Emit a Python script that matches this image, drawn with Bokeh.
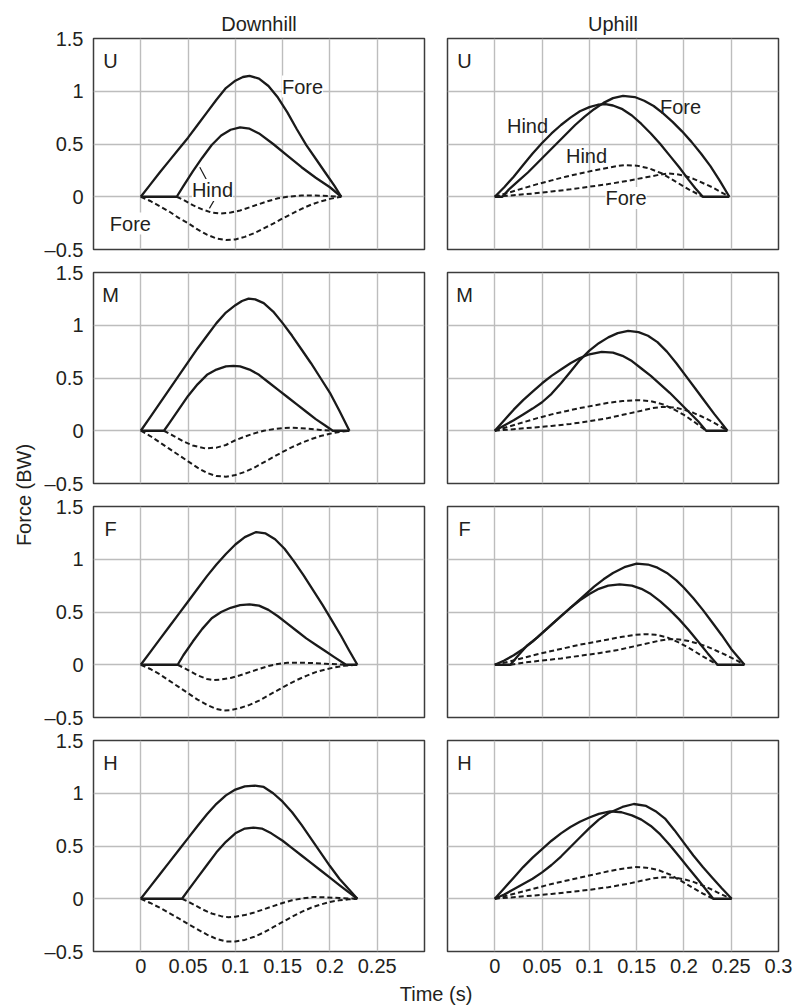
import math
from bokeh.plotting import figure
from bokeh.layouts import row, column
from bokeh.models import FixedTicker, Label, CustomJSTickFormatter, Range1d, Title
from bokeh.embed import file_html
from bokeh.resources import INLINE

# ---------------- data (time in s, force in BW) ----------------
column_titles = ["Downhill", "Uphill"]
speed_letters = ["U", "M", "F", "H"]
y_ticks = [-0.5, 0, 0.5, 1, 1.5]
x_ticks_down = [0, 0.05, 0.1, 0.15, 0.2, 0.25]
x_ticks_up = [0, 0.05, 0.1, 0.15, 0.2, 0.25, 0.3]
grid_x = [0, 0.05, 0.1, 0.15, 0.2, 0.25]
grid_y = [0, 0.5, 1]

# Downhill U
du_fore_v_t = [0, 0.01, 0.02, 0.03, 0.04, 0.05, 0.06, 0.07, 0.08, 0.09, 0.1, 0.108, 0.115, 0.125, 0.135, 0.145, 0.155, 0.165, 0.175, 0.185, 0.195, 0.205, 0.212]
du_fore_v_f = [0, 0.115, 0.23, 0.34, 0.45, 0.56, 0.68, 0.8, 0.92, 1.03, 1.1, 1.135, 1.146, 1.12, 1.05, 0.94, 0.8, 0.64, 0.49, 0.36, 0.23, 0.1, 0]
du_hind_v_t = [0, 0.038, 0.045, 0.055, 0.065, 0.075, 0.085, 0.095, 0.105, 0.115, 0.125, 0.14, 0.155, 0.17, 0.185, 0.2, 0.212]
du_hind_v_f = [0, 0, 0.1, 0.24, 0.37, 0.49, 0.58, 0.635, 0.658, 0.645, 0.6, 0.5, 0.39, 0.28, 0.18, 0.09, 0]
du_hind_h_t = [0.038, 0.045, 0.055, 0.065, 0.075, 0.085, 0.095, 0.105, 0.115, 0.125, 0.135, 0.145, 0.155, 0.17, 0.185, 0.2, 0.212]
du_hind_h_f = [0, -0.03, -0.08, -0.12, -0.15, -0.158, -0.15, -0.13, -0.1, -0.07, -0.04, -0.015, 0.0, 0.012, 0.012, 0.006, 0]
du_fore_h_t = [0, 0.01, 0.02, 0.03, 0.04, 0.05, 0.06, 0.07, 0.08, 0.09, 0.1, 0.11, 0.12, 0.13, 0.14, 0.15, 0.16, 0.17, 0.18, 0.19, 0.2, 0.212]
du_fore_h_f = [0, -0.04, -0.09, -0.14, -0.2, -0.25, -0.31, -0.36, -0.395, -0.41, -0.405, -0.38, -0.345, -0.3, -0.255, -0.205, -0.16, -0.115, -0.075, -0.045, -0.02, 0]

# Downhill M
dm_fore_v_t = [0, 0.01, 0.02, 0.03, 0.04, 0.05, 0.06, 0.07, 0.08, 0.09, 0.1, 0.107, 0.114, 0.121, 0.13, 0.14, 0.15, 0.16, 0.17, 0.18, 0.19, 0.2, 0.21, 0.2206]
dm_fore_v_f = [0, 0.13, 0.26, 0.39, 0.52, 0.65, 0.78, 0.9, 1.02, 1.12, 1.19, 1.23, 1.252, 1.245, 1.21, 1.13, 1.02, 0.9, 0.77, 0.64, 0.5, 0.36, 0.19, 0]
dm_hind_v_t = [0, 0.0245, 0.03, 0.04, 0.05, 0.06, 0.07, 0.08, 0.09, 0.098, 0.105, 0.115, 0.125, 0.135, 0.145, 0.155, 0.165, 0.175, 0.185, 0.195, 0.203, 0.2206]
dm_hind_v_f = [0, 0, 0.07, 0.2, 0.33, 0.44, 0.53, 0.58, 0.61, 0.615, 0.61, 0.58, 0.53, 0.46, 0.39, 0.32, 0.25, 0.18, 0.11, 0.05, 0, 0]
dm_hind_h_t = [0.0245, 0.035, 0.045, 0.055, 0.068, 0.08, 0.09, 0.1, 0.11, 0.12, 0.13, 0.14, 0.15, 0.16, 0.17, 0.18, 0.19, 0.203]
dm_hind_h_f = [0, -0.05, -0.1, -0.14, -0.167, -0.16, -0.135, -0.09, -0.055, -0.025, 0.0, 0.015, 0.025, 0.028, 0.024, 0.016, 0.008, 0]
dm_fore_h_t = [0, 0.01, 0.02, 0.03, 0.04, 0.05, 0.06, 0.07, 0.08, 0.09, 0.1, 0.11, 0.12, 0.13, 0.14, 0.15, 0.16, 0.17, 0.18, 0.19, 0.2, 0.21, 0.2206]
dm_fore_h_f = [0, -0.05, -0.11, -0.17, -0.23, -0.29, -0.35, -0.4, -0.43, -0.435, -0.42, -0.39, -0.35, -0.3, -0.25, -0.2, -0.155, -0.115, -0.08, -0.05, -0.028, -0.012, 0]

# Downhill F
df_fore_v_t = [0, 0.01, 0.02, 0.03, 0.04, 0.05, 0.06, 0.07, 0.08, 0.09, 0.1, 0.11, 0.122, 0.132, 0.142, 0.152, 0.162, 0.172, 0.182, 0.192, 0.202, 0.212, 0.22, 0.229]
df_fore_v_f = [0, 0.12, 0.24, 0.36, 0.48, 0.6, 0.72, 0.84, 0.95, 1.05, 1.14, 1.21, 1.258, 1.245, 1.19, 1.1, 0.98, 0.85, 0.71, 0.57, 0.42, 0.27, 0.14, 0]
df_hind_v_t = [0, 0.039, 0.045, 0.055, 0.065, 0.075, 0.085, 0.095, 0.105, 0.115, 0.125, 0.135, 0.145, 0.155, 0.165, 0.175, 0.185, 0.195, 0.205, 0.217, 0.229]
df_hind_v_f = [0, 0, 0.09, 0.22, 0.34, 0.44, 0.5, 0.54, 0.565, 0.572, 0.56, 0.52, 0.46, 0.39, 0.32, 0.25, 0.19, 0.13, 0.07, 0, 0]
df_hind_h_t = [0.039, 0.05, 0.06, 0.07, 0.077, 0.085, 0.095, 0.105, 0.115, 0.125, 0.135, 0.145, 0.155, 0.165, 0.18, 0.195, 0.21, 0.217]
df_hind_h_f = [0, -0.05, -0.1, -0.135, -0.145, -0.14, -0.125, -0.1, -0.07, -0.04, -0.012, 0.008, 0.018, 0.02, 0.017, 0.01, 0.003, 0]
df_fore_h_t = [0, 0.01, 0.02, 0.03, 0.04, 0.05, 0.06, 0.07, 0.08, 0.0875, 0.095, 0.105, 0.115, 0.125, 0.135, 0.145, 0.155, 0.165, 0.175, 0.185, 0.195, 0.205, 0.215, 0.229]
df_fore_h_f = [0, -0.04, -0.09, -0.15, -0.21, -0.27, -0.33, -0.38, -0.42, -0.434, -0.43, -0.41, -0.38, -0.34, -0.29, -0.24, -0.19, -0.145, -0.105, -0.07, -0.045, -0.025, -0.01, 0]

# Downhill H
dh_fore_v_t = [0, 0.01, 0.02, 0.03, 0.04, 0.05, 0.06, 0.07, 0.08, 0.09, 0.1, 0.11, 0.1207, 0.13, 0.14, 0.15, 0.16, 0.17, 0.18, 0.19, 0.2, 0.21, 0.22, 0.229]
dh_fore_v_f = [0, 0.115, 0.23, 0.345, 0.46, 0.575, 0.69, 0.8, 0.9, 0.98, 1.035, 1.065, 1.073, 1.06, 1.0, 0.92, 0.82, 0.7, 0.57, 0.44, 0.31, 0.19, 0.09, 0]
dh_hind_v_t = [0, 0.0436, 0.05, 0.06, 0.07, 0.08, 0.09, 0.1, 0.11, 0.119, 0.128, 0.138, 0.15, 0.16, 0.17, 0.18, 0.19, 0.2, 0.21, 0.22, 0.229]
dh_hind_v_f = [0, 0, 0.08, 0.2, 0.32, 0.44, 0.54, 0.62, 0.665, 0.675, 0.665, 0.62, 0.55, 0.48, 0.41, 0.34, 0.27, 0.2, 0.13, 0.06, 0]
dh_hind_h_t = [0.0436, 0.055, 0.065, 0.075, 0.085, 0.0926, 0.1, 0.11, 0.12, 0.13, 0.14, 0.15, 0.16, 0.17, 0.183, 0.195, 0.21, 0.229]
dh_hind_h_f = [0, -0.05, -0.1, -0.14, -0.165, -0.175, -0.17, -0.155, -0.13, -0.1, -0.07, -0.04, -0.015, 0.003, 0.016, 0.014, 0.007, 0]
dh_fore_h_t = [0, 0.01, 0.02, 0.03, 0.04, 0.05, 0.06, 0.07, 0.08, 0.09, 0.1, 0.11, 0.12, 0.13, 0.14, 0.15, 0.16, 0.17, 0.18, 0.19, 0.2, 0.21, 0.22, 0.229]
dh_fore_h_f = [0, -0.04, -0.085, -0.135, -0.185, -0.24, -0.29, -0.34, -0.38, -0.405, -0.405, -0.39, -0.36, -0.32, -0.27, -0.22, -0.17, -0.125, -0.085, -0.055, -0.03, -0.015, -0.005, 0]

# Uphill U
uu_hind_v_t = [0, 0.01, 0.02, 0.03, 0.04, 0.05, 0.06, 0.07, 0.08, 0.09, 0.1, 0.109, 0.117, 0.125, 0.135, 0.145, 0.155, 0.165, 0.175, 0.185, 0.195, 0.205, 0.212, 0.22, 0.248]
uu_hind_v_f = [0, 0.09, 0.19, 0.3, 0.41, 0.51, 0.6, 0.68, 0.75, 0.81, 0.85, 0.872, 0.877, 0.865, 0.83, 0.77, 0.69, 0.6, 0.5, 0.39, 0.28, 0.16, 0.08, 0, 0]
uu_fore_v_t = [0, 0.008, 0.015, 0.025, 0.035, 0.045, 0.055, 0.065, 0.075, 0.085, 0.095, 0.105, 0.115, 0.125, 0.1356, 0.148, 0.158, 0.168, 0.178, 0.188, 0.198, 0.208, 0.218, 0.228, 0.238, 0.248]
uu_fore_v_f = [0, 0, 0.07, 0.15, 0.23, 0.32, 0.41, 0.5, 0.59, 0.68, 0.76, 0.83, 0.89, 0.935, 0.956, 0.945, 0.91, 0.86, 0.79, 0.71, 0.62, 0.52, 0.41, 0.29, 0.15, 0]
uu_hind_h_t = [0, 0.015, 0.03, 0.045, 0.06, 0.075, 0.09, 0.105, 0.12, 0.13, 0.138, 0.15, 0.163, 0.177, 0.19, 0.205, 0.22]
uu_hind_h_f = [0, 0.04, 0.08, 0.12, 0.155, 0.19, 0.22, 0.25, 0.275, 0.292, 0.3, 0.295, 0.27, 0.22, 0.15, 0.07, 0]
uu_fore_h_t = [0, 0.02, 0.04, 0.06, 0.08, 0.1, 0.12, 0.14, 0.16, 0.172, 0.183, 0.192, 0.2, 0.21, 0.22, 0.23, 0.24, 0.248]
uu_fore_h_f = [0, 0.015, 0.03, 0.05, 0.07, 0.095, 0.12, 0.15, 0.185, 0.205, 0.22, 0.215, 0.2, 0.17, 0.13, 0.09, 0.04, 0]

# Uphill M
um_hind_v_t = [0, 0.01, 0.02, 0.03, 0.04, 0.05, 0.06, 0.07, 0.08, 0.09, 0.1, 0.113, 0.125, 0.135, 0.145, 0.155, 0.165, 0.175, 0.185, 0.195, 0.205, 0.215, 0.2235, 0.246]
um_hind_v_f = [0, 0.1, 0.2, 0.29, 0.37, 0.45, 0.52, 0.58, 0.64, 0.69, 0.725, 0.748, 0.74, 0.71, 0.66, 0.59, 0.52, 0.44, 0.36, 0.27, 0.18, 0.09, 0, 0]
um_fore_v_t = [0, 0.01, 0.02, 0.03, 0.04, 0.05, 0.06, 0.07, 0.08, 0.09, 0.1, 0.11, 0.12, 0.13, 0.141, 0.152, 0.162, 0.172, 0.182, 0.192, 0.202, 0.212, 0.222, 0.232, 0.24, 0.246]
um_fore_v_f = [0, 0.05, 0.1, 0.155, 0.21, 0.27, 0.35, 0.45, 0.56, 0.67, 0.76, 0.83, 0.885, 0.925, 0.946, 0.935, 0.9, 0.84, 0.75, 0.64, 0.52, 0.4, 0.28, 0.16, 0.07, 0]
um_hind_h_t = [0, 0.015, 0.03, 0.045, 0.06, 0.075, 0.09, 0.105, 0.12, 0.135, 0.152, 0.165, 0.178, 0.19, 0.2, 0.21, 0.2235]
um_hind_h_f = [0, 0.04, 0.08, 0.12, 0.155, 0.185, 0.215, 0.24, 0.265, 0.282, 0.29, 0.28, 0.25, 0.2, 0.15, 0.09, 0]
um_fore_h_t = [0, 0.02, 0.04, 0.06, 0.08, 0.1, 0.12, 0.14, 0.155, 0.167, 0.178, 0.19, 0.2, 0.21, 0.22, 0.23, 0.24, 0.246]
um_fore_h_f = [0, 0.015, 0.03, 0.045, 0.065, 0.09, 0.12, 0.16, 0.19, 0.215, 0.227, 0.22, 0.2, 0.17, 0.13, 0.085, 0.035, 0]

# Uphill F
uf_hind_v_t = [0, 0.01, 0.02, 0.03, 0.04, 0.05, 0.06, 0.07, 0.08, 0.09, 0.1, 0.11, 0.12, 0.132, 0.145, 0.155, 0.165, 0.175, 0.185, 0.195, 0.205, 0.215, 0.225, 0.2355, 0.264]
uf_hind_v_f = [0, 0.04, 0.09, 0.15, 0.22, 0.3, 0.38, 0.46, 0.54, 0.61, 0.67, 0.72, 0.75, 0.761, 0.75, 0.72, 0.67, 0.6, 0.52, 0.43, 0.33, 0.22, 0.11, 0, 0]
uf_fore_v_t = [0, 0.0165, 0.025, 0.034, 0.045, 0.055, 0.065, 0.075, 0.085, 0.095, 0.105, 0.115, 0.125, 0.137, 0.15, 0.162, 0.172, 0.182, 0.192, 0.2, 0.21, 0.22, 0.23, 0.24, 0.25, 0.264]
uf_fore_v_f = [0, 0, 0.09, 0.18, 0.26, 0.34, 0.42, 0.5, 0.58, 0.66, 0.74, 0.81, 0.87, 0.925, 0.959, 0.95, 0.92, 0.87, 0.8, 0.73, 0.63, 0.52, 0.4, 0.28, 0.15, 0]
uf_hind_h_t = [0, 0.015, 0.03, 0.045, 0.06, 0.075, 0.09, 0.105, 0.12, 0.135, 0.148, 0.1586, 0.17, 0.182, 0.195, 0.207, 0.22, 0.2355]
uf_hind_h_f = [0, 0.03, 0.065, 0.1, 0.13, 0.16, 0.19, 0.215, 0.24, 0.265, 0.283, 0.29, 0.285, 0.26, 0.21, 0.15, 0.08, 0]
uf_fore_h_t = [0.0165, 0.03, 0.05, 0.07, 0.09, 0.11, 0.13, 0.15, 0.165, 0.175, 0.185, 0.195, 0.205, 0.215, 0.225, 0.235, 0.245, 0.255, 0.264]
uf_fore_h_f = [0, 0.02, 0.04, 0.06, 0.085, 0.11, 0.14, 0.18, 0.21, 0.23, 0.242, 0.24, 0.225, 0.2, 0.17, 0.13, 0.09, 0.045, 0]

# Uphill H
uh_hind_v_t = [0, 0.01, 0.02, 0.03, 0.04, 0.05, 0.06, 0.07, 0.08, 0.09, 0.1, 0.11, 0.122, 0.134, 0.145, 0.155, 0.165, 0.175, 0.185, 0.195, 0.205, 0.215, 0.223, 0.231, 0.2505]
uh_hind_v_f = [0, 0.1, 0.2, 0.3, 0.39, 0.47, 0.55, 0.62, 0.68, 0.73, 0.77, 0.805, 0.828, 0.82, 0.79, 0.75, 0.69, 0.61, 0.51, 0.4, 0.29, 0.18, 0.09, 0, 0]
uh_fore_v_t = [0, 0.01, 0.02, 0.03, 0.04, 0.05, 0.06, 0.07, 0.08, 0.09, 0.1, 0.11, 0.12, 0.135, 0.147, 0.16, 0.17, 0.18, 0.19, 0.2, 0.21, 0.22, 0.23, 0.24, 0.2505]
uh_fore_v_f = [0, 0.04, 0.09, 0.14, 0.19, 0.25, 0.32, 0.4, 0.49, 0.58, 0.67, 0.75, 0.81, 0.87, 0.898, 0.88, 0.83, 0.76, 0.65, 0.53, 0.41, 0.3, 0.2, 0.1, 0]
uh_hind_h_t = [0, 0.015, 0.03, 0.045, 0.06, 0.075, 0.09, 0.105, 0.12, 0.135, 0.148, 0.16, 0.172, 0.185, 0.197, 0.21, 0.221, 0.231]
uh_hind_h_f = [0, 0.035, 0.07, 0.105, 0.14, 0.17, 0.2, 0.23, 0.26, 0.285, 0.3, 0.295, 0.275, 0.23, 0.17, 0.1, 0.045, 0]
uh_fore_h_t = [0, 0.02, 0.04, 0.06, 0.08, 0.1, 0.12, 0.14, 0.155, 0.168, 0.178, 0.19, 0.2, 0.21, 0.22, 0.23, 0.24, 0.2505]
uh_fore_h_f = [0, 0.015, 0.03, 0.045, 0.065, 0.085, 0.11, 0.14, 0.17, 0.195, 0.204, 0.2, 0.185, 0.16, 0.125, 0.085, 0.04, 0]

# leader lines from the "Hind" label (Downhill U): x0, y0, x1, y1
hind_leaders = [(0.0624, 0.280, 0.0692, 0.165), (0.0774, -0.035, 0.0726, -0.11)]

# ---------------- styling ----------------
FONT = "Liberation Sans"
FS = "20px"
TXT = "#231f20"
CURVE = "#1a1a1a"
GRID = "#bdbdbd"
FRAME_W, FRAME_H = 331, 211

tick_fmt_code = "return tick < 0 ? '\u2013' + String(-tick) : String(tick);"

panels = {
    ("Downhill", "U"): [(du_fore_v_t, du_fore_v_f, "solid"), (du_hind_v_t, du_hind_v_f, "solid"),
                        (du_hind_h_t, du_hind_h_f, "dashed"), (du_fore_h_t, du_fore_h_f, "dashed")],
    ("Downhill", "M"): [(dm_fore_v_t, dm_fore_v_f, "solid"), (dm_hind_v_t, dm_hind_v_f, "solid"),
                        (dm_hind_h_t, dm_hind_h_f, "dashed"), (dm_fore_h_t, dm_fore_h_f, "dashed")],
    ("Downhill", "F"): [(df_fore_v_t, df_fore_v_f, "solid"), (df_hind_v_t, df_hind_v_f, "solid"),
                        (df_hind_h_t, df_hind_h_f, "dashed"), (df_fore_h_t, df_fore_h_f, "dashed")],
    ("Downhill", "H"): [(dh_fore_v_t, dh_fore_v_f, "solid"), (dh_hind_v_t, dh_hind_v_f, "solid"),
                        (dh_hind_h_t, dh_hind_h_f, "dashed"), (dh_fore_h_t, dh_fore_h_f, "dashed")],
    ("Uphill", "U"): [(uu_fore_v_t, uu_fore_v_f, "solid"), (uu_hind_v_t, uu_hind_v_f, "solid"),
                      (uu_hind_h_t, uu_hind_h_f, "dashed"), (uu_fore_h_t, uu_fore_h_f, "dashed")],
    ("Uphill", "M"): [(um_fore_v_t, um_fore_v_f, "solid"), (um_hind_v_t, um_hind_v_f, "solid"),
                      (um_hind_h_t, um_hind_h_f, "dashed"), (um_fore_h_t, um_fore_h_f, "dashed")],
    ("Uphill", "F"): [(uf_fore_v_t, uf_fore_v_f, "solid"), (uf_hind_v_t, uf_hind_v_f, "solid"),
                      (uf_hind_h_t, uf_hind_h_f, "dashed"), (uf_fore_h_t, uf_fore_h_f, "dashed")],
    ("Uphill", "H"): [(uh_fore_v_t, uh_fore_v_f, "solid"), (uh_hind_v_t, uh_hind_v_f, "solid"),
                      (uh_hind_h_t, uh_hind_h_f, "dashed"), (uh_fore_h_t, uh_fore_h_f, "dashed")],
}

# curve labels: (column, speed, text, x, y, white background)
curve_labels = [
    ("Downhill", "U", "Fore", 0.171, 1.045, True),
    ("Downhill", "U", "Hind", 0.0758, 0.065, True),
    ("Downhill", "U", "Fore", -0.011, -0.254, True),
    ("Uphill", "U", "Hind", 0.0346, 0.666, False),
    ("Uphill", "U", "Fore", 0.1964, 0.855, False),
    ("Uphill", "U", "Hind", 0.097, 0.382, False),
    ("Uphill", "U", "Fore", 0.1388, -0.012, True),
]

STRIP_W = 40          # width of the strip holding the y-axis title
ROW_TOPS = [38, 12, 12, 12]
ROW_BOTTOMS = [11, 11, 11, 30]


def make_panel(col_idx, row_idx):
    col = column_titles[col_idx]
    letter = speed_letters[row_idx]
    left = col_idx == 0
    top = row_idx == 0
    bottom = row_idx == len(speed_letters) - 1
    p = figure(frame_width=FRAME_W, frame_height=FRAME_H,
               x_range=Range1d(-0.05, 0.3), y_range=Range1d(-0.5, 1.5),
               x_axis_location="below" if bottom else None,
               y_axis_location="left" if left else None,
               min_border_left=(93 - STRIP_W) if left else 12,
               min_border_right=11 if left else 16,
               min_border_top=ROW_TOPS[row_idx],
               min_border_bottom=ROW_BOTTOMS[row_idx],
               output_backend="svg", toolbar_location=None, title=None)
    p.outline_line_color = "#3c3c3c"
    p.outline_line_width = 1.5
    p.background_fill_color = "white"
    p.border_fill_color = "white"
    p.xgrid.ticker = FixedTicker(ticks=grid_x)
    p.ygrid.ticker = FixedTicker(ticks=grid_y)
    p.grid.grid_line_color = GRID
    p.grid.grid_line_width = 1.4
    fmt = CustomJSTickFormatter(code=tick_fmt_code)
    for ax in p.axis:
        ax.axis_line_color = None
        ax.major_tick_out = 0
        ax.major_tick_in = 0
        ax.minor_tick_out = 0
        ax.minor_tick_in = 0
        ax.major_label_text_font = FONT
        ax.major_label_text_font_size = FS
        ax.major_label_text_color = TXT
        ax.formatter = fmt
    if left:
        p.yaxis.ticker = FixedTicker(ticks=y_ticks)
        p.yaxis.major_label_standoff = 10
    if bottom:
        p.xaxis.ticker = FixedTicker(ticks=x_ticks_down if left else x_ticks_up)
        p.xaxis.major_label_standoff = 7
    if top:
        p.title = Title(text=col, align="center", text_font=FONT, text_font_size=FS,
                        text_font_style="normal", text_color=TXT, standoff=7)

    for t, f, style in panels[(col, letter)]:
        if style == "solid":
            p.line(t, f, line_color=CURVE, line_width=2.3, line_join="round")
        else:
            p.line(t, f, line_color=CURVE, line_width=2.0, line_dash="5 3")

    p.add_layout(Label(x=-0.032, y=1.29, text=letter, text_font=FONT, text_font_size=FS,
                       text_color=TXT, text_align="center", text_baseline="middle"))
    for c, s, txt, x, y, bg in curve_labels:
        if c == col and s == letter:
            kw = dict(background_fill_color="white") if bg else {}
            p.add_layout(Label(x=x, y=y, text=txt, text_font=FONT, text_font_size=FS,
                               text_color=TXT, text_align="center", text_baseline="middle", **kw))
    if col == "Downhill" and letter == "U":
        p.segment(x0=[s[0] for s in hind_leaders], y0=[s[1] for s in hind_leaders],
                  x1=[s[2] for s in hind_leaders], y1=[s[3] for s in hind_leaders],
                  line_color=CURVE, line_width=1.2)
    return p


rows = []
for r in range(len(speed_letters)):
    rows.append(row(make_panel(0, r), make_panel(1, r)))
grid_col = column(*rows)

TOTAL_H = sum(ROW_TOPS) + sum(ROW_BOTTOMS) + 4 * FRAME_H
ylab = figure(frame_width=STRIP_W, frame_height=TOTAL_H, x_range=Range1d(0, STRIP_W),
              y_range=Range1d(0, TOTAL_H), min_border=0, x_axis_location=None,
              y_axis_location=None, output_backend="svg", toolbar_location=None, title=None)
ylab.outline_line_color = None
ylab.grid.visible = False
ylab.add_layout(Label(x=23.5, y=TOTAL_H - 494.5, text="Force (BW)", angle=math.pi / 2,
                      text_font=FONT, text_font_size=FS, text_color=TXT,
                      text_align="center", text_baseline="middle"))

XW, XH = 794, 1006 - TOTAL_H
xlab = figure(frame_width=XW, frame_height=XH, x_range=Range1d(0, XW), y_range=Range1d(0, XH),
              min_border=0, x_axis_location=None, y_axis_location=None,
              output_backend="svg", toolbar_location=None, title=None)
xlab.outline_line_color = None
xlab.grid.visible = False
xlab.add_layout(Label(x=435.5, y=XH - (993 - TOTAL_H), text="Time (s)", text_font=FONT,
                      text_font_size=FS, text_color=TXT,
                      text_align="center", text_baseline="middle"))

layout = column(row(ylab, grid_col), xlab)

with open("out.html", "w", encoding="utf-8") as fh:
    fh.write(file_html(layout, INLINE))
